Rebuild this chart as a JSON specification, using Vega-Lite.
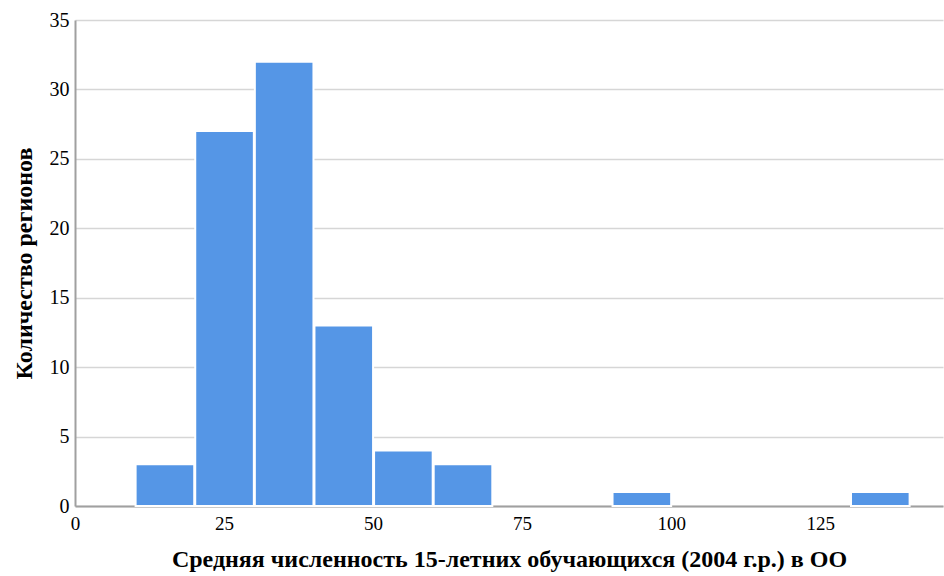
{
  "$schema": "https://vega.github.io/schema/vega-lite/v6.json",
  "autosize": "none",
  "width": 868,
  "height": 486,
  "padding": {"left": 75, "top": 20, "right": 1, "bottom": 70},
  "background": "white",
  "config": {
    "view": {"stroke": null},
    "font": "Liberation Serif",
    "axis": {
      "labelFont": "Liberation Serif",
      "titleFont": "Liberation Serif",
      "labelFontSize": 19,
      "titleFontSize": 24,
      "titleFontWeight": "bold",
      "labelColor": "#000",
      "titleColor": "#000",
      "gridColor": "#d0d0d0",
      "gridWidth": 1.5,
      "domainColor": "#a0a0a0",
      "domainWidth": 2,
      "ticks": false
    }
  },
  "data": {
    "values": [
      {"start": 10, "end": 20, "count": 3},
      {"start": 20, "end": 30, "count": 27},
      {"start": 30, "end": 40, "count": 32},
      {"start": 40, "end": 50, "count": 13},
      {"start": 50, "end": 60, "count": 4},
      {"start": 60, "end": 70, "count": 3},
      {"start": 90, "end": 100, "count": 1},
      {"start": 130, "end": 140, "count": 1}
    ]
  },
  "mark": {"type": "bar", "color": "#5596e6", "stroke": "white", "strokeWidth": 2},
  "encoding": {
    "x": {
      "field": "start",
      "bin": "binned",
      "type": "quantitative",
      "scale": {"domain": [0, 145.6], "nice": false, "zero": true},
      "axis": {
        "values": [0, 25, 50, 75, 100, 125],
        "title": "Средняя численность 15-летних обучающихся (2004 г.р.) в ОО",
        "labelPadding": 8,
        "titleY": 41,
        "labelFlush": false,
        "gridColor": "#c4c4c4"
      }
    },
    "x2": {"field": "end"},
    "y": {
      "field": "count",
      "type": "quantitative",
      "scale": {"domain": [0, 35], "nice": false},
      "axis": {
        "values": [0, 5, 10, 15, 20, 25, 30, 35],
        "title": "Количество регионов",
        "labelPadding": 6,
        "labelFontSize": 20,
        "titleX": -39,
        "gridColor": "#d6d6d6"
      }
    }
  }
}
